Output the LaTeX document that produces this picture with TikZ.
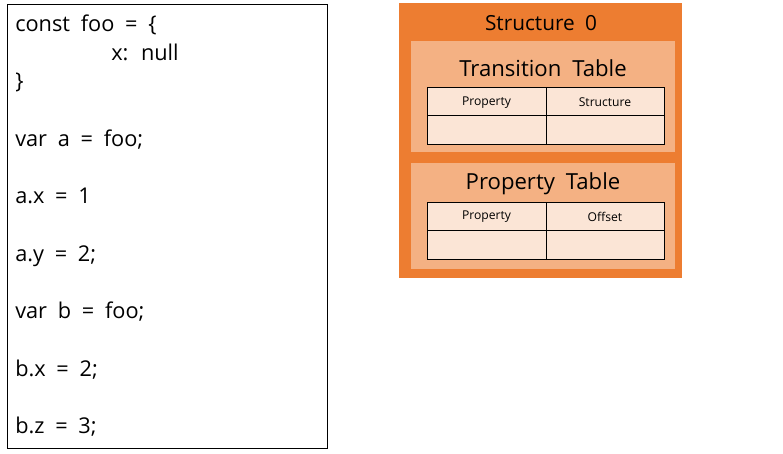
\documentclass[tikz,border=0pt]{standalone}
\usepackage{fontspec}
\setmainfont[WordSpace=1.9]{Open Sans}
\definecolor{orangeA}{HTML}{ED7D31}
\definecolor{orangeB}{HTML}{F4B183}
\definecolor{orangeC}{HTML}{FBE5D6}
\begin{document}
\begin{tikzpicture}[x=0.75pt,y=-0.75pt,
  codeline/.style={anchor=base west,inner sep=0pt,font=\fontsize{16.3}{18}\selectfont},
  celltext/.style={inner sep=0pt,font=\fontsize{9.1}{10}\selectfont},
  titletext/.style={inner sep=0pt,font=\fontsize{16.6}{18}\selectfont},
  cell/.style={draw=black,line width=0.7pt,fill=orangeC}]
\useasboundingbox (0,0) rectangle (783,454);
% code box
\node[draw=black,line width=0.8pt,minimum width=320*0.75pt,minimum height=444*0.75pt,anchor=north west,inner sep=0pt] (code) at (7,4) {};
\node[codeline] (l1) at (15,31.5) {const foo = \{};
\node[codeline] (l2) at (111,60) {x: null};
\node[codeline] (l3) at (15,88.5) {\}};
\node[codeline] (l4) at (15,146) {var a = foo;};
\node[codeline] (l5) at (15,203.5) {a.x = 1};
\node[codeline] (l6) at (15,261) {a.y = 2;};
\node[codeline] (l7) at (15,318.5) {var b = foo;};
\node[codeline] (l8) at (15,376) {b.x = 2;};
\node[codeline] (l9) at (15,433.5) {b.z = 3;};
% structure box
\fill[orangeA] (399,3) rectangle (682,278);
\node[titletext,font=\fontsize{15.6}{17}\selectfont] (s0) at (541,23.5) {Structure 0};
\fill[orangeB] (411,41) rectangle (675,152);
\fill[orangeB] (411,163) rectangle (675,269);
\node[titletext] (tt) at (543,68.5) {Transition Table};
\node[titletext] (pt) at (543,183.5) {Property Table};
% transition table
\draw[cell] (427,87) rectangle (546,115);
\draw[cell] (546,87) rectangle (664,115);
\draw[cell] (427,115) rectangle (546,144);
\draw[cell] (546,115) rectangle (664,144);
\node[celltext] (t1) at (486.5,102.5) {Property};
\node[celltext] (t2) at (605,102.5) {Structure};
% property table
\draw[cell] (427,202) rectangle (546,230);
\draw[cell] (546,202) rectangle (664,230);
\draw[cell] (427,230) rectangle (546,259);
\draw[cell] (546,230) rectangle (664,259);
\node[celltext] (p1) at (486.5,216.5) {Property};
\node[celltext] (p2) at (605,216.5) {Offset};
\end{tikzpicture}
\end{document}
